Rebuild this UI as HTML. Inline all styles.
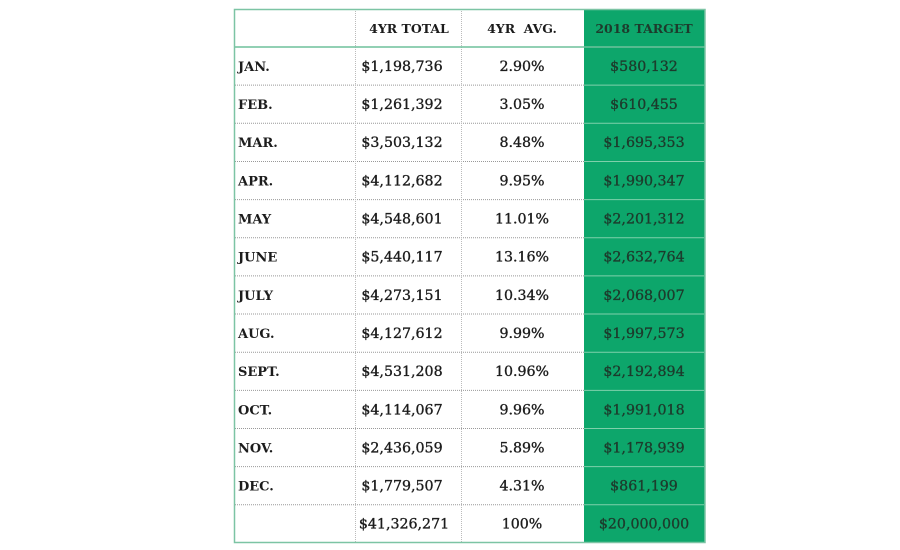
<!DOCTYPE html>
<html><head><meta charset="utf-8"><style>
html,body{margin:0;padding:0;background:#fff;}
svg{display:block;}
.m{font-family:"DejaVu Serif","Liberation Serif",serif;font-weight:bold;font-size:13px;fill:#1c1c1c;}
.n{font-family:"DejaVu Serif","Liberation Serif",serif;font-size:14.2px;fill:#1c1c1c;text-anchor:middle;stroke:#1c1c1c;stroke-width:0.35;}
.h{font-family:"DejaVu Serif","Liberation Serif",serif;font-weight:bold;font-size:12.5px;fill:#1c1c1c;text-anchor:middle;}
.g{fill:#1d3b2c;stroke:#1d3b2c;}
.d{stroke:#999;stroke-dasharray:1,1;}
.w{stroke:#7fd0ab;}
</style></head><body>
<svg width="900" height="550" xmlns="http://www.w3.org/2000/svg">
<rect x="584" y="9" width="121" height="534" fill="#0da66b"/>
<g>
<line class="d" x1="235" y1="85.15" x2="584" y2="85.15"/><line class="w" x1="584" y1="85.15" x2="704" y2="85.15"/>
<line class="d" x1="235" y1="123.3" x2="584" y2="123.3"/><line class="w" x1="584" y1="123.3" x2="704" y2="123.3"/>
<line class="d" x1="235" y1="161.45" x2="584" y2="161.45"/><line class="w" x1="584" y1="161.45" x2="704" y2="161.45"/>
<line class="d" x1="235" y1="199.6" x2="584" y2="199.6"/><line class="w" x1="584" y1="199.6" x2="704" y2="199.6"/>
<line class="d" x1="235" y1="237.75" x2="584" y2="237.75"/><line class="w" x1="584" y1="237.75" x2="704" y2="237.75"/>
<line class="d" x1="235" y1="275.9" x2="584" y2="275.9"/><line class="w" x1="584" y1="275.9" x2="704" y2="275.9"/>
<line class="d" x1="235" y1="314.05" x2="584" y2="314.05"/><line class="w" x1="584" y1="314.05" x2="704" y2="314.05"/>
<line class="d" x1="235" y1="352.2" x2="584" y2="352.2"/><line class="w" x1="584" y1="352.2" x2="704" y2="352.2"/>
<line class="d" x1="235" y1="390.35" x2="584" y2="390.35"/><line class="w" x1="584" y1="390.35" x2="704" y2="390.35"/>
<line class="d" x1="235" y1="428.5" x2="584" y2="428.5"/><line class="w" x1="584" y1="428.5" x2="704" y2="428.5"/>
<line class="d" x1="235" y1="466.65" x2="584" y2="466.65"/><line class="w" x1="584" y1="466.65" x2="704" y2="466.65"/>
<line class="d" x1="235" y1="504.8" x2="584" y2="504.8"/><line class="w" x1="584" y1="504.8" x2="704" y2="504.8"/>
</g>
<line x1="355.5" y1="9" x2="355.5" y2="543" stroke="#bbb" stroke-dasharray="1,1"/>
<line x1="461.5" y1="9" x2="461.5" y2="543" stroke="#bbb" stroke-dasharray="1,1"/>
<line x1="234" y1="47" x2="705" y2="47" stroke="#6fc09c" stroke-width="1.5"/>
<rect x="234.5" y="9.5" width="470.5" height="533" fill="none" stroke="#7cc4a4" stroke-width="1.5"/>

<text class="h" x="409" y="33">4YR TOTAL</text>
<text class="h" x="522" y="33">4YR&#160; AVG.</text>
<text class="h" x="644" y="33" style="fill:#1d3b2c">2018 TARGET</text>

<text class="m" x="238" y="71">JAN.</text><text class="n" x="402" y="71">$1,198,736</text><text class="n" x="522" y="71">2.90%</text><text class="n g" x="644" y="71">$580,132</text>
<text class="m" x="238" y="109">FEB.</text><text class="n" x="402" y="109">$1,261,392</text><text class="n" x="522" y="109">3.05%</text><text class="n g" x="644" y="109">$610,455</text>
<text class="m" x="238" y="147.2">MAR.</text><text class="n" x="402" y="147.2">$3,503,132</text><text class="n" x="522" y="147.2">8.48%</text><text class="n g" x="644" y="147.2">$1,695,353</text>
<text class="m" x="238" y="185.4">APR.</text><text class="n" x="402" y="185.4">$4,112,682</text><text class="n" x="522" y="185.4">9.95%</text><text class="n g" x="644" y="185.4">$1,990,347</text>
<text class="m" x="238" y="223.5">MAY</text><text class="n" x="402" y="223.5">$4,548,601</text><text class="n" x="522" y="223.5">11.01%</text><text class="n g" x="644" y="223.5">$2,201,312</text>
<text class="m" x="238" y="261.7">JUNE</text><text class="n" x="402" y="261.7">$5,440,117</text><text class="n" x="522" y="261.7">13.16%</text><text class="n g" x="644" y="261.7">$2,632,764</text>
<text class="m" x="238" y="299.8">JULY</text><text class="n" x="402" y="299.8">$4,273,151</text><text class="n" x="522" y="299.8">10.34%</text><text class="n g" x="644" y="299.8">$2,068,007</text>
<text class="m" x="238" y="338">AUG.</text><text class="n" x="402" y="338">$4,127,612</text><text class="n" x="522" y="338">9.99%</text><text class="n g" x="644" y="338">$1,997,573</text>
<text class="m" x="238" y="376.1">SEPT.</text><text class="n" x="402" y="376.1">$4,531,208</text><text class="n" x="522" y="376.1">10.96%</text><text class="n g" x="644" y="376.1">$2,192,894</text>
<text class="m" x="238" y="414.3">OCT.</text><text class="n" x="402" y="414.3">$4,114,067</text><text class="n" x="522" y="414.3">9.96%</text><text class="n g" x="644" y="414.3">$1,991,018</text>
<text class="m" x="238" y="452.4">NOV.</text><text class="n" x="402" y="452.4">$2,436,059</text><text class="n" x="522" y="452.4">5.89%</text><text class="n g" x="644" y="452.4">$1,178,939</text>
<text class="m" x="238" y="490.6">DEC.</text><text class="n" x="402" y="490.6">$1,779,507</text><text class="n" x="522" y="490.6">4.31%</text><text class="n g" x="644" y="490.6">$861,199</text>
<text class="n" x="404" y="528.7">$41,326,271</text><text class="n" x="522" y="528.7">100%</text><text class="n g" x="644" y="528.7">$20,000,000</text>
</svg>
</body></html>
